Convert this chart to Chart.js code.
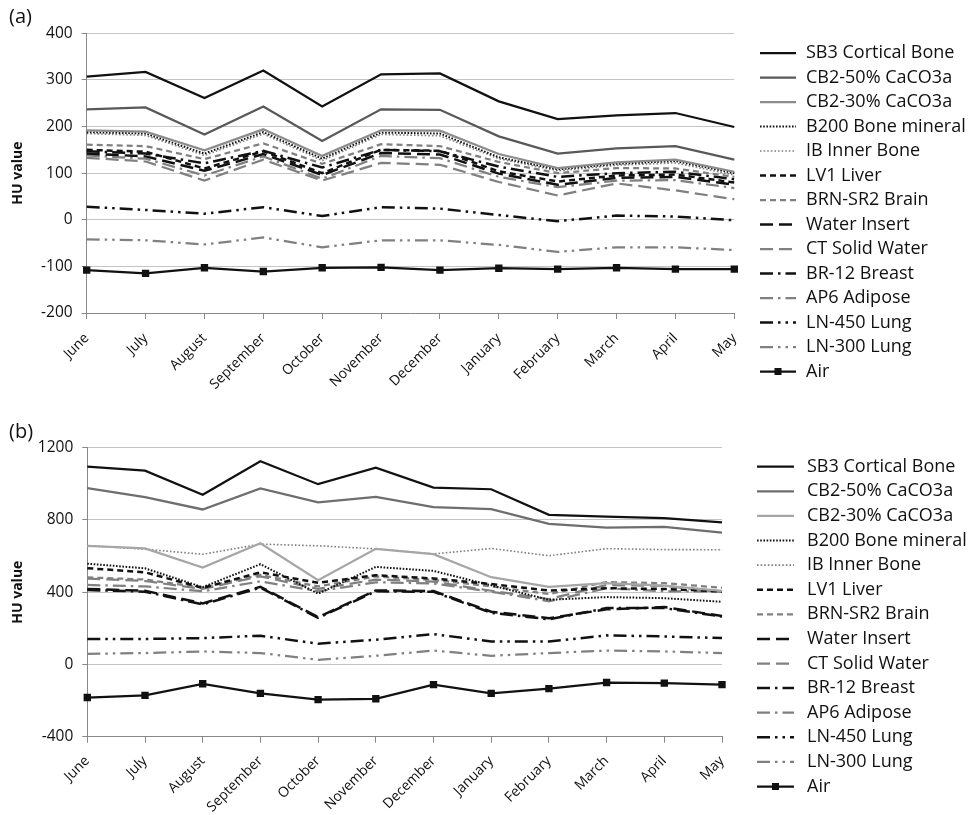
<!DOCTYPE html>
<html>
<head>
<meta charset="utf-8">
<script src="https://cdn.jsdelivr.net/npm/chart.js@4.4.1/dist/chart.umd.min.js"></script>
<style>
  html, body { margin: 0; padding: 0; background: #fff; }
  #wrap { position: relative; width: 970px; height: 815px; overflow: hidden; font-family: "Open Sans", sans-serif; }
  canvas { position: absolute; left: 0; }
  .tag { position: absolute; left: 9px; font-size: 20px; color: #111; line-height: 1; }
</style>
</head>
<body>
<div id="wrap">
  <canvas id="chartA" width="970" height="400" style="top:0"></canvas>
  <canvas id="chartB" width="970" height="405" style="top:410px"></canvas>
  <div class="tag" style="top:6px">(a)</div>
  <div class="tag" style="top:421px">(b)</div>
</div>
<script>
// Months of the measurement year
const months = ['June', 'July', 'August', 'September', 'October', 'November',
                'December', 'January', 'February', 'March', 'April', 'May'];

// Insert names, in legend order
const inserts = ['SB3 Cortical Bone', 'CB2-50% CaCO3a', 'CB2-30% CaCO3a', 'B200 Bone mineral',
                 'IB Inner Bone', 'LV1 Liver', 'BRN-SR2 Brain', 'Water Insert', 'CT Solid Water',
                 'BR-12 Breast', 'AP6 Adipose', 'LN-450 Lung', 'LN-300 Lung', 'Air'];

// Panel (a) HU values
const a_sb3    = [307, 317, 261, 320, 243, 312, 314, 254, 216, 224, 229, 199];
const a_cb250  = [237, 241, 183, 243, 169, 237, 236, 179, 142, 153, 158, 129];
const a_cb230  = [192, 189, 149, 194, 137, 192, 191, 141, 111, 123, 129, 103];
const a_b200   = [188, 185, 142, 188, 131, 187, 185, 134, 108, 120, 126, 100];
const a_ib     = [185, 181, 138, 184, 127, 183, 180, 131, 105, 117, 122, 96];
const a_lv1    = [150, 146, 110, 147, 100, 150, 148, 104, 82, 95, 97, 80];
const a_brn    = [161, 158, 130, 164, 120, 162, 158, 124, 100, 111, 110, 92];
const a_water  = [142, 136, 105, 141, 96, 143, 140, 99, 75, 90, 92, 75];
const a_ctsw   = [133, 125, 84, 129, 84, 122, 118, 81, 52, 78, 63, 44];
const a_br12   = [147, 142, 121, 148, 112, 150, 147, 114, 92, 100, 103, 87];
const a_ap6    = [138, 131, 95, 136, 88, 137, 132, 92, 70, 84, 85, 68];
const a_ln450  = [28, 21, 13, 27, 8, 27, 24, 10, -3, 9, 7, -1];
const a_ln300  = [-42, -44, -53, -38, -59, -44, -44, -54, -69, -59, -59, -65];
const a_air    = [-108, -115, -103, -111, -103, -102, -108, -104, -106, -103, -106, -106];

// Panel (b) HU values
const b_sb3    = [1095, 1073, 939, 1125, 998, 1090, 979, 970, 828, 819, 810, 786];
const b_cb250  = [976, 926, 858, 974, 898, 928, 871, 860, 778, 758, 762, 730];
const b_cb230  = [656, 642, 536, 671, 466, 640, 611, 483, 430, 450, 437, 408];
const b_b200   = [558, 532, 428, 555, 392, 540, 518, 438, 358, 373, 367, 347];
const b_ib     = [658, 638, 610, 666, 657, 640, 612, 642, 602, 641, 636, 635];
const b_lv1    = [533, 510, 424, 510, 452, 494, 476, 445, 409, 422, 418, 404];
const b_brn    = [482, 470, 425, 496, 432, 487, 468, 432, 390, 456, 450, 425];
const b_water  = [418, 408, 338, 430, 262, 410, 406, 292, 256, 305, 318, 268];
const b_ctsw   = [475, 462, 418, 488, 418, 470, 458, 408, 362, 440, 435, 400];
const b_br12   = [412, 403, 332, 425, 258, 405, 402, 286, 250, 312, 312, 265];
const b_ap6    = [440, 432, 405, 460, 405, 455, 448, 403, 350, 422, 405, 403];
const b_ln450  = [141, 141, 146, 159, 115, 137, 168, 127, 127, 161, 155, 146];
const b_ln300  = [59, 63, 72, 63, 26, 48, 77, 48, 63, 77, 72, 63];
const b_air    = [-183, -171, -107, -160, -195, -190, -112, -160, -134, -100, -103, -112];

// Y axis ranges
const a_yRange = { min: -200, max: 400, step: 100 };
const b_yRange = { min: -400, max: 1200, step: 400 };

// Line styles per insert (same order as inserts)
const BLACK = '#111111', GREY = '#808080';
function lineStyles(cb50, cb30) {
  return [
    { color: BLACK, width: 2.25, dash: [] },
    { color: cb50,  width: 2.25, dash: [] },
    { color: cb30,  width: 2.25, dash: [] },
    { color: BLACK, width: 2,    dash: [1.6, 1.6] },
    { color: GREY,  width: 1.6,  dash: [1.6, 2] },
    { color: BLACK, width: 2.5,  dash: [6, 4] },
    { color: GREY,  width: 2.25, dash: [6, 4] },
    { color: BLACK, width: 2.5,  dash: [13, 6] },
    { color: GREY,  width: 2.25, dash: [13, 6] },
    { color: BLACK, width: 2.5,  dash: [13, 5, 2.5, 5] },
    { color: GREY,  width: 2.25, dash: [13, 5, 2.5, 5] },
    { color: BLACK, width: 2.5,  dash: [13, 5, 2.5, 5, 2.5, 5] },
    { color: GREY,  width: 2.25, dash: [13, 5, 2.5, 5, 2.5, 5] },
    { color: BLACK, width: 2.25, dash: [], marker: true }
  ];
}

function buildDatasets(series, styles) {
  return series.map((values, i) => {
    const s = styles[i];
    return {
      label: inserts[i],
      data: values,
      borderColor: s.color,
      backgroundColor: s.color,
      borderWidth: s.width,
      borderDash: s.dash,
      tension: 0,
      fill: false,
      pointStyle: 'rect',
      pointRadius: s.marker ? 5.2 : 0,
      pointHoverRadius: s.marker ? 5.2 : 0,
      pointBorderWidth: 0,
      pointBackgroundColor: s.color
    };
  });
}

// Legend drawn to the right of the plot, one row per dataset
const sideLegend = {
  id: 'sideLegend',
  afterDraw(chart, args, opts) {
    const ctx = chart.ctx;
    ctx.save();
    chart.data.datasets.forEach((ds, i) => {
      const y = opts.top + i * opts.step;
      ctx.beginPath();
      ctx.setLineDash(ds.borderDash || []);
      ctx.lineWidth = ds.borderWidth;
      ctx.strokeStyle = ds.borderColor;
      ctx.moveTo(opts.x1, y);
      ctx.lineTo(opts.x2, y);
      ctx.stroke();
      if (ds.pointRadius > 0) {
        ctx.setLineDash([]);
        ctx.fillStyle = ds.pointBackgroundColor;
        const h = 3.5;
        const cx = (opts.x1 + opts.x2) / 2;
        ctx.fillRect(cx - h, y - h, 2 * h, 2 * h);
      }
      ctx.setLineDash([]);
      ctx.fillStyle = '#111';
      ctx.font = opts.font;
      ctx.textBaseline = 'middle';
      ctx.textAlign = 'left';
      ctx.fillText(ds.label, opts.textX, y);
    });
    ctx.restore();
  }
};

function makeChart(canvasId, series, styles, range, frame, legendPos) {
  return new Chart(document.getElementById(canvasId), {
    type: 'line',
    data: { labels: months, datasets: buildDatasets(series, styles) },
    plugins: [sideLegend],
    options: {
      responsive: false,
      animation: false,
      events: [],
      layout: { padding: { top: frame.top, right: frame.right, left: 0, bottom: 0 } },
      plugins: {
        legend: { display: false },
        tooltip: { enabled: false },
        sideLegend: legendPos
      },
      scales: {
        x: {
          type: 'category',
          offset: false,
          afterFit(scale) { scale.height = frame.xHeight; },
          grid: { drawOnChartArea: false, drawTicks: true, tickLength: 6, color: '#888888' },
          border: { color: '#888888', width: 1 },
          ticks: {
            autoSkip: false, minRotation: 45, maxRotation: 45, padding: frame.xPad,
            color: '#111', font: { family: '"Open Sans", sans-serif', size: 14 }
          }
        },
        y: {
          min: range.min, max: range.max,
          afterFit(scale) { scale.width = frame.left; },
          grid: { color: '#c4c4c4', lineWidth: 1, tickLength: 5, tickColor: '#888888' },
          border: { color: '#888888', width: 1 },
          ticks: {
            stepSize: range.step, padding: 9,
            callback: v => String(v),
            color: '#111', font: { family: '"Open Sans", sans-serif', size: 15.5 }
          },
          title: {
            display: true, text: 'HU value', color: '#111',
            font: { family: '"Open Sans", sans-serif', size: 14, weight: 'bold' },
            padding: { top: 10, bottom: 0 }
          }
        }
      }
    }
  });
}

makeChart('chartA',
  [a_sb3, a_cb250, a_cb230, a_b200, a_ib, a_lv1, a_brn, a_water, a_ctsw, a_br12, a_ap6, a_ln450, a_ln300, a_air],
  lineStyles('#595959', '#8c8c8c'), a_yRange,
  { top: 33.3, right: 235.7, left: 86.7, xHeight: 87, xPad: 11 },
  { top: 53, step: 24.5, x1: 760, x2: 796, textX: 806, font: '18px "Open Sans", sans-serif' });

makeChart('chartB',
  [b_sb3, b_cb250, b_cb230, b_b200, b_ib, b_lv1, b_brn, b_water, b_ctsw, b_br12, b_ap6, b_ln450, b_ln300, b_air],
  lineStyles('#6e6e6e', '#a6a6a6'), b_yRange,
  { top: 37.7, right: 248, left: 87.3, xHeight: 78.3, xPad: 10 },
  { top: 56.7, step: 24.6, x1: 757, x2: 794, textX: 807, font: '18px "Open Sans", sans-serif' });
</script>
</body>
</html>
